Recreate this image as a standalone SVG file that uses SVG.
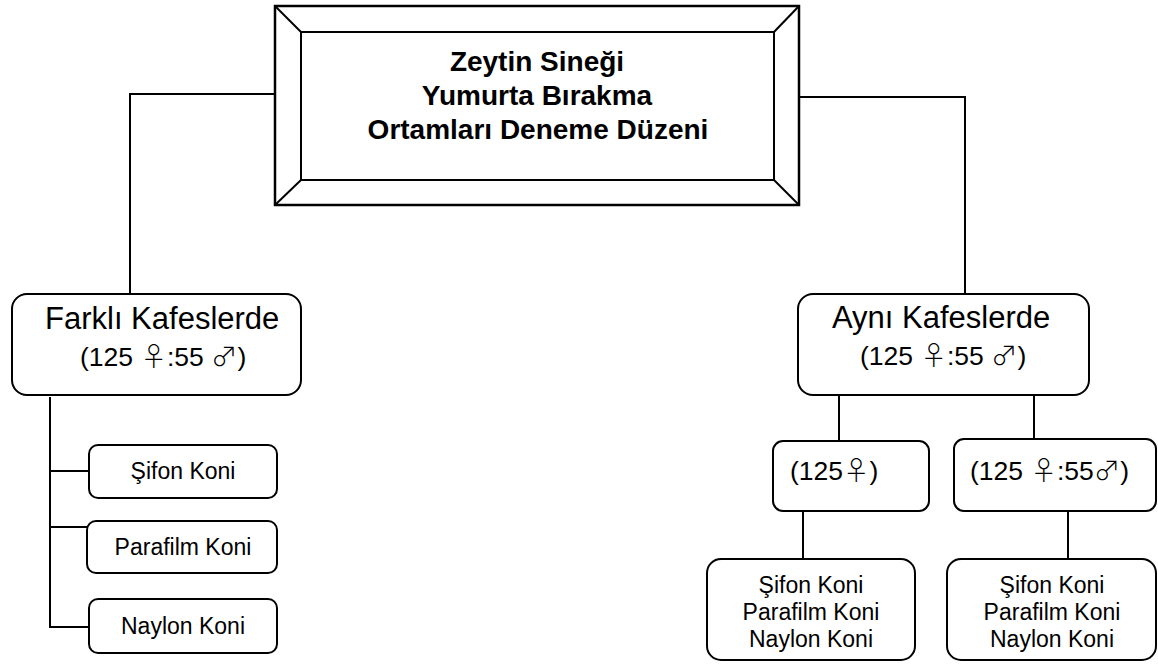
<svg xmlns="http://www.w3.org/2000/svg" width="1158" height="664" viewBox="0 0 1158 664">
<style>
.box{fill:#fff;stroke:#000;stroke-width:2}
.ln{fill:none;stroke:#000;stroke-width:2}
.t{font-family:"Liberation Sans",Arial,sans-serif;fill:#000}
.sym{font-family:"Noto Sans CJK JP","DejaVu Sans",sans-serif;font-weight:300}
.big{font-size:31px}
.med{font-size:26.5px}
.sm{font-size:23px}
.title{font-size:28px;font-weight:bold}
</style>
<rect width="1158" height="664" fill="#fff"/>
<g id="connectors">
<polyline class="ln" points="275,94 130,94 130,294"/>
<polyline class="ln" points="799,97 965,97 965,294"/>
<line class="ln" x1="839" y1="395" x2="839" y2="441"/>
<line class="ln" x1="1034" y1="395" x2="1034" y2="439"/>
<line class="ln" x1="803" y1="511" x2="803" y2="559"/>
<line class="ln" x1="1068" y1="511" x2="1068" y2="559"/>
<polyline class="ln" points="50,397 50,627 89,627"/>
<line class="ln" x1="50" y1="471" x2="89" y2="471"/>
<line class="ln" x1="50" y1="527" x2="87" y2="527"/>
</g>
<g id="title">
<rect x="275" y="6" width="524" height="199" fill="#fff" stroke="#000" stroke-width="2.5"/>
<rect x="301" y="32" width="473" height="148" fill="none" stroke="#000" stroke-width="2"/>
<line class="ln" x1="275" y1="6" x2="301" y2="32"/>
<line class="ln" x1="799" y1="6" x2="774" y2="32"/>
<line class="ln" x1="275" y1="205" x2="301" y2="180"/>
<line class="ln" x1="799" y1="205" x2="774" y2="180"/>
<text class="t title" text-anchor="middle" x="537" y="71">Zeytin Sineği</text>
<text class="t title" text-anchor="middle" x="537" y="105">Yumurta Bırakma</text>
<text class="t title" text-anchor="middle" x="538" y="139">Ortamları Deneme Düzeni</text>
</g>
<g id="farkli">
<rect class="box" x="12" y="294" width="289" height="101" rx="15"/>
<text class="t big" x="45" y="329">Farklı Kafeslerde</text>
<text class="t med" x="80" y="366">(125 <tspan class="sym">♀</tspan>:55 <tspan class="sym">♂</tspan>)</text>
</g>
<g id="ayni">
<rect class="box" x="798" y="294" width="291" height="101" rx="15"/>
<text class="t big" x="832" y="328">Aynı Kafeslerde</text>
<text class="t med" x="860" y="365">(125 <tspan class="sym">♀</tspan>:55 <tspan class="sym">♂</tspan>)</text>
</g>
<g id="sifon">
<rect class="box" x="89" y="445" width="188" height="53" rx="9"/>
<text class="t sm" text-anchor="middle" x="183" y="479">Şifon Koni</text>
</g>
<g id="parafilm">
<rect class="box" x="87" y="521" width="190" height="52" rx="9"/>
<text class="t sm" text-anchor="middle" x="183" y="555">Parafilm Koni</text>
</g>
<g id="naylon">
<rect class="box" x="89" y="599" width="188" height="54" rx="9"/>
<text class="t sm" text-anchor="middle" x="183" y="634">Naylon Koni</text>
</g>
<g id="female">
<rect class="box" x="773" y="441" width="156" height="70" rx="10"/>
<text class="t med" x="790" y="480" font-size="27.5">(125<tspan class="sym">♀</tspan>)</text>
</g>
<g id="mixed">
<rect class="box" x="954" y="439" width="202" height="72" rx="10"/>
<text class="t med" x="970" y="480" font-size="27.5">(125 <tspan class="sym">♀</tspan>:55<tspan class="sym">♂</tspan>)</text>
</g>
<g id="cones-female">
<rect class="box" x="707" y="559" width="208" height="101" rx="14"/>
<text class="t sm" text-anchor="middle" x="811" y="593">Şifon Koni</text>
<text class="t sm" text-anchor="middle" x="811" y="620">Parafilm Koni</text>
<text class="t sm" text-anchor="middle" x="811" y="647">Naylon Koni</text>
</g>
<g id="cones-mixed">
<rect class="box" x="947" y="559" width="209" height="101" rx="14"/>
<text class="t sm" text-anchor="middle" x="1052" y="593">Şifon Koni</text>
<text class="t sm" text-anchor="middle" x="1052" y="620">Parafilm Koni</text>
<text class="t sm" text-anchor="middle" x="1052" y="647">Naylon Koni</text>
</g>
</svg>
